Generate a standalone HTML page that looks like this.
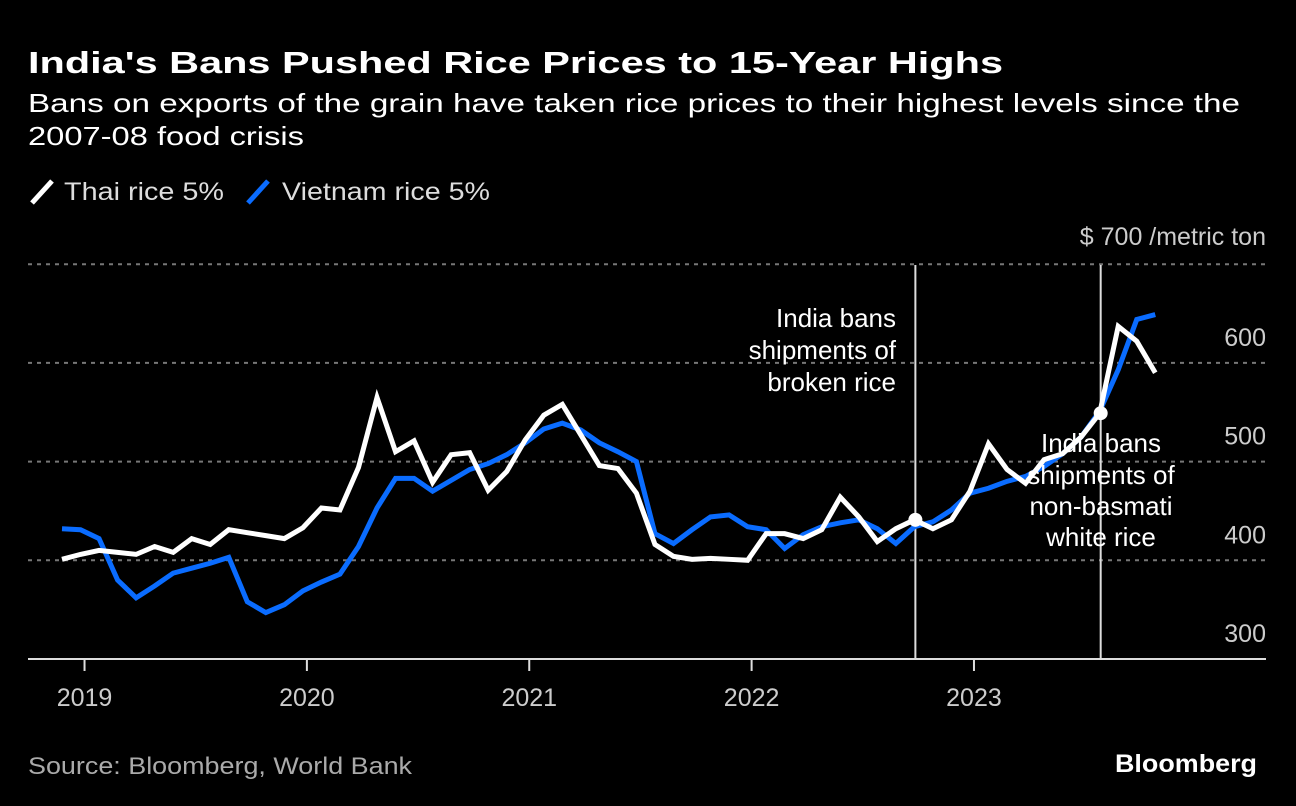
<!DOCTYPE html>
<html><head><meta charset="utf-8"><style>
html,body{margin:0;padding:0;background:#000;}
svg{display:block;font-family:"Liberation Sans",sans-serif;}
</style></head><body>
<svg id="chart" width="1296" height="806" viewBox="0 0 1296 806">
<rect width="1296" height="806" fill="#000"/>
<text x="28" y="73" fill="#fff" font-size="31" font-weight="bold" textLength="975" lengthAdjust="spacingAndGlyphs">India's Bans Pushed Rice Prices to 15-Year Highs</text>
<text x="28" y="112" fill="#fff" font-size="26" textLength="1212" lengthAdjust="spacingAndGlyphs">Bans on exports of the grain have taken rice prices to their highest levels since the</text>
<text x="28" y="145" fill="#fff" font-size="26" textLength="276" lengthAdjust="spacingAndGlyphs">2007-08 food crisis</text>
<g>
<g>
<line x1="32" y1="203" x2="52" y2="181" stroke="#fff" stroke-width="5"/>
<text x="64" y="200" fill="#ddd" font-size="25" textLength="160" lengthAdjust="spacingAndGlyphs">Thai rice 5%</text></g>
<g>
<line x1="248" y1="203" x2="268" y2="181" stroke="#0a6cff" stroke-width="5"/>
<text x="282" y="200" fill="#ddd" font-size="25" textLength="208" lengthAdjust="spacingAndGlyphs">Vietnam rice 5%</text></g>
</g>
<g id="grid"></g>
<g id="yticks"></g>
<g id="xaxis"></g>
<g id="events"></g>
<g id="series"></g>
<g id="dots"></g>
<g fill="#fff" font-size="26" text-anchor="end">
<text x="896" y="327">India bans</text><text x="896" y="359">shipments of</text><text x="896" y="391">broken rice</text></g>
<g fill="#fff" font-size="26" text-anchor="middle">
<text x="1101" y="452">India bans</text><text x="1101" y="484">shipments of</text><text x="1101" y="515">non-basmati</text><text x="1101" y="546">white rice</text></g>
<text x="28" y="774" fill="#aaa" font-size="24" textLength="384" lengthAdjust="spacingAndGlyphs">Source: Bloomberg, World Bank</text>
<text x="1257" y="772" fill="#fff" font-size="25" font-weight="bold" text-anchor="end" textLength="142" lengthAdjust="spacingAndGlyphs">Bloomberg</text>
</svg>
<script>
const thai=[401,406,410,408,406,414,408,422,416,431,428,425,422,433,453,451,494,565,510,521,479,507,509,471,490,522,547,558,527,496,493,468,416,404,401,402,401,400,427,427,422,431,464,444,419,432,441,432,441,470,518,492,478,502,508,525,549,637,622,590];
const vietnam=[432,431,422,380,362,374,387,392,397,403,358,347,355,369,378,386,414,453,483,483,470,481,492,498,507,519,533,539,532,519,510,500,427,417,431,444,446,434,431,412,426,434,438,441,432,417,434,439,451,468,473,480,485,495,508,525,551,593,644,649];
const yTicks=[300,400,500,600,700];
const xYears=["2019","2020","2021","2022","2023"];
const eventIdx=[46,56];
const NS="http://www.w3.org/2000/svg";
function xs(i){return 62+i*18.53;}
function ys(v){return 659-(v-300)*0.987;}
function yearX(k){return xs(1+k*12)+4;}
function mk(t,a,p){const e=document.createElementNS(NS,t);for(const k in a)e.setAttribute(k,a[k]);p.appendChild(e);return e;}
const grid=document.getElementById('grid'),yt=document.getElementById('yticks'),xa=document.getElementById('xaxis');
yTicks.forEach(v=>{
 if(v>300){const l=mk('line',{x1:28,x2:1266,y1:ys(v),y2:ys(v),stroke:'#777','stroke-width':2,'stroke-dasharray':'4 5'},grid);
 
 }
 const t=mk('text',{x:1266,y:ys(v)-17,fill:'#ccc','font-size':25,'text-anchor':'end'},yt);
 t.textContent=v===700?'$ 700 /metric ton':String(v);
 if(v===700)t.setAttribute('y',ys(v)-19);
 
 
});
const ax=mk('line',{x1:28,x2:1266,y1:659,y2:659,stroke:'#ddd','stroke-width':2},xa);


xYears.forEach((y,k)=>{
 const x=yearX(k);
 mk('line',{x1:x,x2:x,y1:659,y2:671,stroke:'#ddd','stroke-width':2},xa);
 const t=mk('text',{x:x,y:706,fill:'#ccc','font-size':25,'text-anchor':'middle'},xa);
 t.textContent=y;
 
 
});
const ev=document.getElementById('events'),dots=document.getElementById('dots');
eventIdx.forEach(i=>{
 const x=xs(i)+1;
 const l=mk('line',{x1:x,x2:x,y1:265,y2:659,stroke:'#ddd','stroke-width':2},ev);
 
 
 const c=mk('circle',{cx:x,cy:ys(thai[i]),r:7,fill:'#fff'},dots);
 
 
});
const ser=document.getElementById('series');
[[vietnam,'#0a6cff','vietnam-line'],[thai,'#fff','thai-line']].forEach(([d,c,n])=>{
 const p=mk('polyline',{points:d.map((v,i)=>xs(i)+','+ys(v)).join(' '),fill:'none',stroke:c,'stroke-width':5,'stroke-linejoin':'miter'},ser);
 
 
});
</script>
</body></html>
